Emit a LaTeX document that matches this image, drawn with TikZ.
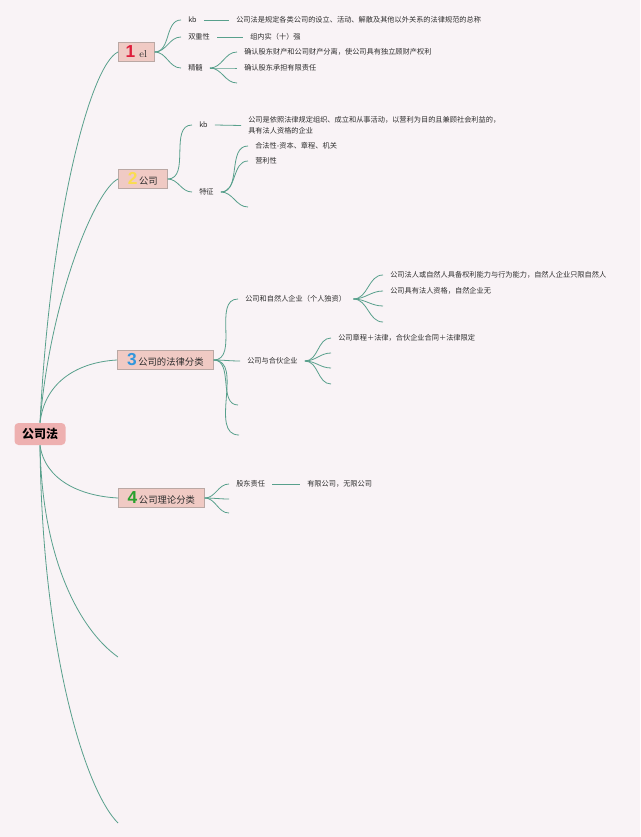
\documentclass[tikz,border=0pt]{standalone}
\usepackage{fontspec}
\newfontfamily\cjk{Noto Sans CJK SC}
\newfontfamily\numfont{Liberation Sans}
\definecolor{bg}{RGB}{249,243,246}
\definecolor{lineg}{RGB}{88,160,140}
\definecolor{txtc}{RGB}{45,45,45}
\definecolor{boxf}{RGB}{240,202,196}
\definecolor{boxd}{RGB}{186,168,164}
\definecolor{rootf}{RGB}{238,176,176}
\definecolor{nA}{RGB}{222,30,60}
\definecolor{nB}{RGB}{250,220,80}
\definecolor{nC}{RGB}{50,150,220}
\definecolor{nD}{RGB}{40,160,45}
\newcommand{\bignum}[2]{{\numfont\bfseries\fontsize{13pt}{13pt}\selectfont\color{#1}#2}}
\begin{document}
\begin{tikzpicture}[x=0.75pt,y=-0.75pt,
  conn/.style={draw=lineg, line width=0.6pt},
  txt/.style={anchor=west, inner xsep=5.25pt, inner ysep=1pt, align=left,
    font=\cjk\fontsize{5.4pt}{8.25pt}\selectfont, text=txtc},
  box/.style={anchor=west, draw=boxd, fill=boxf, line width=0.5pt,
    minimum height=14.25pt, inner sep=0pt, align=center,
    font=\cjk\fontsize{7pt}{8pt}\selectfont, text=txtc},
  rootbox/.style={fill=rootf, rounded corners=3pt, minimum width=38.25pt,
    minimum height=16.5pt, inner sep=0pt,
    font=\cjk\bfseries\fontsize{9pt}{10pt}\selectfont, text=black}]
\useasboundingbox (0,0) rectangle (640,837);
\fill[bg] (0,0) rectangle (640,837);

% root
\node[rootbox] (root) at (40,434) {公司法};

% main boxes
\node[box, minimum width=27pt] (b1) at (118,52) {\bignum{nA}{1}\hspace{3pt}{\rmfamily\fontsize{7.5pt}{8pt}\selectfont el}};
\node[box, minimum width=36.75pt] (b2) at (118,179) {\bignum{nB}{2}\,公司};
\node[box, minimum width=72pt] (b3) at (117,360) {\bignum{nC}{3}\,公司的法律分类};
\node[box, minimum width=64.5pt] (b4) at (118,498) {\bignum{nD}{4}\,公司理论分类};
\coordinate (e5) at (118,657);
\coordinate (e6) at (118,823);

% root connectors
\draw[conn] (root.north) .. controls (50,220) and (90,65) .. (b1.west);
\draw[conn] (root.north) .. controls (50,300) and (95,190) .. (b2.west);
\draw[conn] (root.north) .. controls (45,380) and (80,362) .. (b3.west);
\draw[conn] (root.south) .. controls (45,480) and (80,496) .. (b4.west);
\draw[conn] (root.south) .. controls (42,560) and (80,630) .. (e5);
\draw[conn] (root.south) .. controls (42,650) and (85,790) .. (e6);

% section 1
\node[txt] (k1) at (181,20) {kb};
\node[txt] (d1) at (229,20) {公司法是规定各类公司的设立、活动、解散及其他以外关系的法律规范的总称};
\node[txt] (s1) at (181,37) {双重性};
\node[txt] (d2) at (243,37) {组内实（十）强};
\node[txt] (j1) at (181,68) {精髓};
\node[txt] (c1) at (237,52) {确认股东财产和公司财产分离，使公司具有独立顾财产权利};
\node[txt] (c2) at (237,68) {确认股东承担有限责任};
\coordinate (c3) at (237,83);
\draw[conn] (b1.east) to[out=0,in=180] (k1.west);
\draw[conn] (b1.east) to[out=0,in=180] (s1.west);
\draw[conn] (b1.east) to[out=0,in=180] (j1.west);
\draw[conn] (k1.east) -- (d1.west);
\draw[conn] (s1.east) -- (d2.west);
\draw[conn] (j1.east) to[out=0,in=180] (c1.west);
\draw[conn] (j1.east) to[out=0,in=180] (c2.west);
\draw[conn] (j1.east) to[out=0,in=180] (c3);

% section 2
\node[txt] (k2) at (192,125) {kb};
\node[txt] (d3) at (241,125.5) {公司是依照法律规定组织、成立和从事活动，以营利为目的且兼顾社会利益的，\\具有法人资格的企业};
\node[txt] (t2) at (192,192) {特征};
\node[txt] (f1) at (248,146) {合法性-资本、章程、机关};
\node[txt] (f2) at (248,161) {营利性};
\coordinate (f3) at (248,207);
\draw[conn] (b2.east) to[out=0,in=180] (k2.west);
\draw[conn] (b2.east) to[out=0,in=180] (t2.west);
\draw[conn] (k2.east) -- (d3.west);
\draw[conn] (t2.east) to[out=0,in=180] (f1.west);
\draw[conn] (t2.east) to[out=0,in=180] (f2.west);
\draw[conn] (t2.east) to[out=0,in=180] (f3);

% section 3
\node[txt] (p1) at (238,299) {公司和自然人企业（个人独资）};
\node[txt] (p2) at (240,361) {公司与合伙企业};
\coordinate (e3a) at (238,405);
\coordinate (e3b) at (239,435);
\draw[conn] (b3.east) to[out=0,in=180] (p1.west);
\draw[conn] (b3.east) to[out=0,in=180] (p2.west);
\draw[conn] (b3.east) to[out=0,in=180] (e3a);
\draw[conn] (b3.east) to[out=0,in=180] (e3b);
\node[txt] (q1) at (383,275) {公司法人或自然人具备权利能力与行为能力，自然人企业只限自然人};
\node[txt] (q2) at (383,291) {公司具有法人资格，自然企业无};
\coordinate (q3) at (383,306);
\coordinate (q4) at (383,322);
\draw[conn] (p1.east) to[out=0,in=180] (q1.west);
\draw[conn] (p1.east) to[out=0,in=180] (q2.west);
\draw[conn] (p1.east) to[out=0,in=180] (q3);
\draw[conn] (p1.east) to[out=0,in=180] (q4);
\node[txt] (r1) at (331,338) {公司章程＋法律，合伙企业合同＋法律限定};
\coordinate (r2) at (331,353);
\coordinate (r3) at (331,368);
\coordinate (r4) at (331,384);
\draw[conn] (p2.east) to[out=0,in=180] (r1.west);
\draw[conn] (p2.east) to[out=0,in=180] (r2);
\draw[conn] (p2.east) to[out=0,in=180] (r3);
\draw[conn] (p2.east) to[out=0,in=180] (r4);

% section 4
\node[txt] (g1) at (229,484) {股东责任};
\node[txt] (h1) at (300,484) {有限公司，无限公司};
\coordinate (g2) at (229,499);
\coordinate (g3) at (229,513);
\draw[conn] (b4.east) to[out=0,in=180] (g1.west);
\draw[conn] (b4.east) to[out=0,in=180] (g2);
\draw[conn] (b4.east) to[out=0,in=180] (g3);
\draw[conn] (g1.east) -- (h1.west);
\end{tikzpicture}
\end{document}
